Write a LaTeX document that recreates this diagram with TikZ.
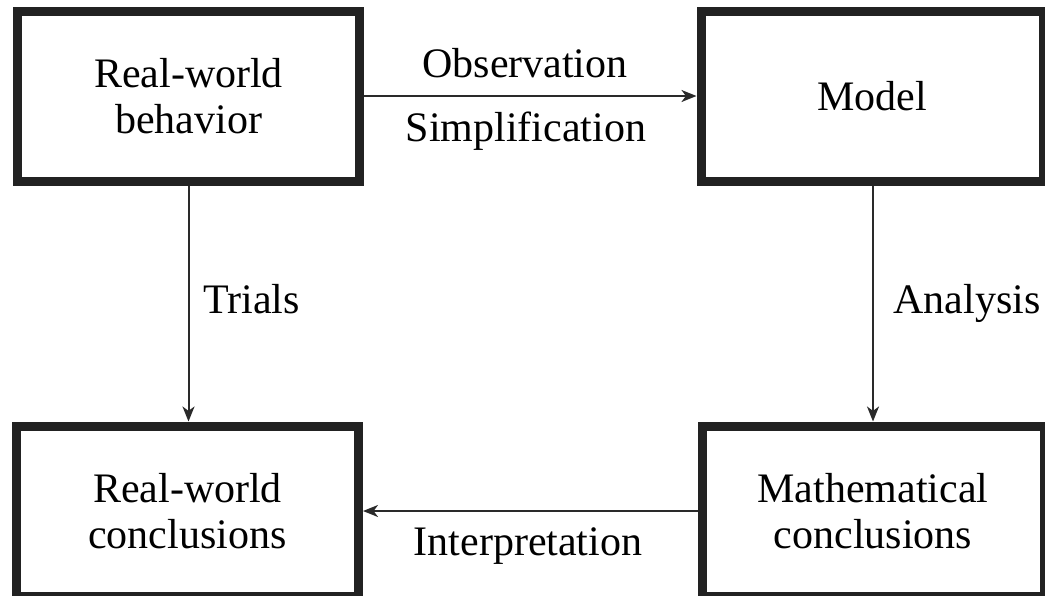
\documentclass[tikz,border=0pt]{standalone}
\usepackage{fontspec}
\setmainfont{Liberation Serif}
\usetikzlibrary{arrows.meta}
\definecolor{frame}{HTML}{222222}
\definecolor{wire}{HTML}{2A2A2A}
\tikzset{
  stagebox/.style={draw=frame, line width=4.5pt, rectangle, align=center,
    minimum width=171pt, minimum height=85pt, inner sep=0pt,
    font=\fontsize{21}{23}\selectfont},
  flow/.style={draw=wire, line width=1pt,
    -{Stealth[length=7.5pt,width=6pt,inset=2.2pt]}},
  tag/.style={font=\fontsize{21}{23}\selectfont, inner sep=0pt}
}
\begin{document}
\begin{tikzpicture}[x=0.5pt,y=-0.5pt]
  \useasboundingbox (0,0) rectangle (1045,595);
  % the four stages
  \node[stagebox] (rwb) at (188.5,96) {Real-world\\behavior};
  \node[stagebox] (mod) at (872,96) {Model};
  \node[stagebox] (rwc) at (187.5,511) {Real-world\\conclusions};
  \node[stagebox] (mc)  at (873,511) {Mathematical\\conclusions};
  % connectors
  \draw[flow] (rwb.east) -- (mod.west);
  \draw[flow] (rwb.south) -- (rwb.south |- rwc.north);
  \draw[flow] (mc.north |- mod.south) -- (mc.north);
  \draw[flow] (mc.west) -- (rwc.east);
  % connector labels
  \node[tag, anchor=base] (obs) at (525,77) {Observation};
  \node[tag, anchor=base] (sim) at (526,141) {Simplification};
  \node[tag, anchor=base west] (tri) at (203,313) {Trials};
  \node[tag, anchor=base west] (ana) at (893,313) {Analysis};
  \node[tag, anchor=base] (int) at (528,555) {Interpretation};
\end{tikzpicture}
\end{document}
